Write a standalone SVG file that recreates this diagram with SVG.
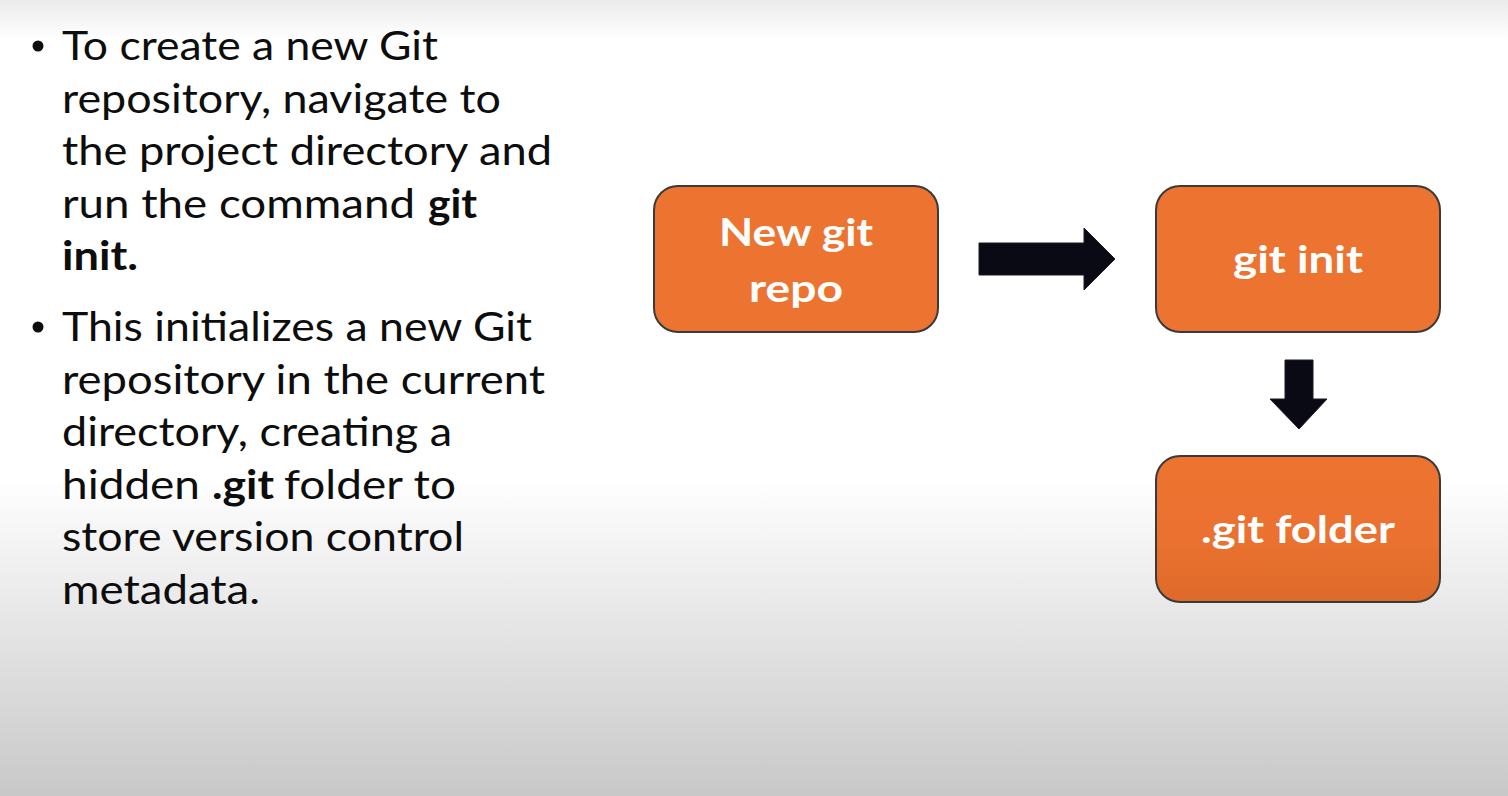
<svg xmlns="http://www.w3.org/2000/svg" width="1508" height="796" viewBox="0 0 1508 796">
  <defs>
    <linearGradient id="bg" x1="0" y1="0" x2="0" y2="1">
      <stop offset="0" stop-color="#ebebeb"/>
      <stop offset="0.05" stop-color="#ffffff"/>
      <stop offset="0.6" stop-color="#ffffff"/>
      <stop offset="1" stop-color="#c8c8c8"/>
    </linearGradient>
    <linearGradient id="boxlow" x1="0" y1="0" x2="0" y2="1">
      <stop offset="0" stop-color="#ED7331"/>
      <stop offset="0.6" stop-color="#EA712F"/>
      <stop offset="1" stop-color="#DD6A29"/>
    </linearGradient>
    <style>
      .body { font-family: Lato, "Open Sans", "Liberation Sans", sans-serif; font-size: 40px; fill: #0d0d0d; }
      .b { font-weight: bold; }
      .box { fill: #ED7331; stroke: #3a3a3a; stroke-width: 2; }
      .lbl { font-family: Lato, "Open Sans", "Liberation Sans", sans-serif; font-size: 38px; font-weight: bold; fill: #ffffff; text-anchor: middle; }
      .arrow { fill: #0a0a14; stroke: #1a1a2a; stroke-width: 1; }
    </style>
  </defs>
  <rect x="0" y="0" width="1508" height="796" fill="url(#bg)"/>

  <g id="bullets">
    <circle cx="38" cy="46" r="5.5" fill="#0d0d0d"/>
    <text class="body" x="62" y="60" textLength="376" lengthAdjust="spacingAndGlyphs">To create a new Git</text>
    <text class="body" x="62" y="112.5" textLength="439" lengthAdjust="spacingAndGlyphs">repository, navigate to</text>
    <text class="body" x="62" y="165" textLength="490" lengthAdjust="spacingAndGlyphs">the project directory and</text>
    <text class="body" x="62" y="217.5" textLength="353" lengthAdjust="spacingAndGlyphs">run the command</text>
    <text class="body b" x="428" y="217.5" textLength="49" lengthAdjust="spacingAndGlyphs">git</text>
    <text class="body b" x="62" y="270" textLength="76" lengthAdjust="spacingAndGlyphs">init.</text>

    <circle cx="38" cy="327" r="5.5" fill="#0d0d0d"/>
    <text class="body" x="62" y="341" textLength="470" lengthAdjust="spacingAndGlyphs">This initializes a new Git</text>
    <text class="body" x="62" y="393.5" textLength="483" lengthAdjust="spacingAndGlyphs">repository in the current</text>
    <text class="body" x="62" y="446" textLength="390" lengthAdjust="spacingAndGlyphs">directory, creating a</text>
    <text class="body" x="62" y="498.5" textLength="138" lengthAdjust="spacingAndGlyphs">hidden</text>
    <text class="body b" x="212" y="498.5" textLength="62" lengthAdjust="spacingAndGlyphs">.git</text>
    <text class="body" x="284" y="498.5" textLength="172" lengthAdjust="spacingAndGlyphs">folder to</text>
    <text class="body" x="62" y="551" textLength="402" lengthAdjust="spacingAndGlyphs">store version control</text>
    <text class="body" x="62" y="603.5" textLength="198" lengthAdjust="spacingAndGlyphs">metadata.</text>
  </g>

  <g id="node-new-repo">
    <rect class="box" x="654" y="186" width="284" height="146" rx="24" ry="24"/>
    <text class="lbl" x="796" y="246" textLength="154" lengthAdjust="spacingAndGlyphs">New git</text>
    <text class="lbl" x="796" y="302" textLength="94" lengthAdjust="spacingAndGlyphs">repo</text>
  </g>

  <g id="node-git-init">
    <rect class="box" x="1156" y="186" width="284" height="146" rx="24" ry="24"/>
    <text class="lbl" x="1298" y="273" textLength="130" lengthAdjust="spacingAndGlyphs">git init</text>
  </g>

  <g id="node-git-folder">
    <rect class="box" x="1156" y="456" width="284" height="146" rx="24" ry="24" style="fill:url(#boxlow)"/>
    <text class="lbl" x="1298" y="543" textLength="194" lengthAdjust="spacingAndGlyphs">.git folder</text>
  </g>

  <g id="connectors">
    <polygon class="arrow" points="979,243 1084,243 1084,228 1115,259 1084,290 1084,275 979,275"/>
    <polygon class="arrow" points="1285,360 1313,360 1313,399 1327,399 1299,429 1270,399 1285,399"/>
  </g>
</svg>
